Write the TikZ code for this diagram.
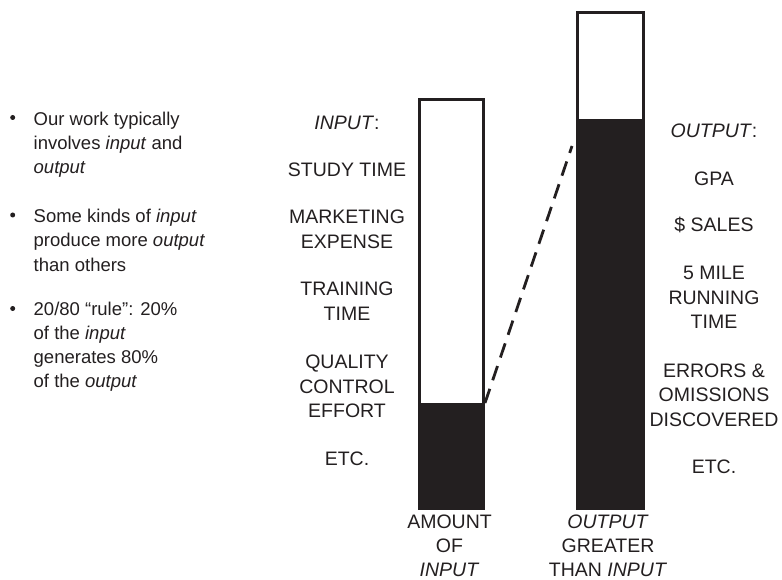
\documentclass[tikz,border=0pt]{standalone}
\usepackage{fontspec}
\setmainfont{Liberation Sans}
\definecolor{ink}{HTML}{231F20}
\begin{document}
\begin{tikzpicture}[x=1pt,y=-1pt,
  bullettext/.style={anchor=north west, inner sep=0pt, align=left, text=ink,
    font=\fontsize{18.5}{24.2}\selectfont},
  bulletdot/.style={circle, fill=ink, inner sep=0pt, minimum size=5pt},
  lab/.style={anchor=north, inner sep=0pt, align=center, text=ink,
    font=\fontsize{19.5}{24.5}\selectfont},
  caption/.style={lab, font=\fontsize{19.5}{23.6}\selectfont},
  barframe/.style={draw=ink, line width=3pt, fill=white, inner sep=0pt,
    anchor=north west},
  barfill/.style={draw=ink, line width=3pt, fill=ink, inner sep=0pt,
    anchor=north west},
  link/.style={draw=ink, line width=2.8pt, dash pattern=on 15pt off 9pt}]
\useasboundingbox (0,0) rectangle (782,580);

% bullet points
\node[bulletdot] (d1) at (12.7,117.5) {};
\node[bulletdot] (d2) at (12.7,215) {};
\node[bulletdot] (d3) at (12.7,308.5) {};
\node[bullettext] (t1) at (33.5,111.5) {Our work typically\\involves \textit{input} and\\\textit{output}};
\node[bullettext] (t2) at (33.5,209) {Some kinds of \textit{input}\\produce more \textit{output}\\than others};
\node[bullettext] (t3) at (33.5,301.5) {20/80 “rule”: 20\%\\of the \textit{input}\\generates 80\%\\of the \textit{output}};

% input bar
\node[barframe, minimum width=64.5pt, minimum height=408pt] (inbar) at (417.5,98.5) {};
\node[barfill, minimum width=64.5pt, minimum height=103.5pt] (infill) at (417.5,403) {};

% output bar
\node[barframe, minimum width=66pt, minimum height=495pt] (outbar) at (575.5,11.5) {};
\node[barfill, minimum width=66pt, minimum height=387pt] (outfill) at (575.5,119.5) {};

% dashed link from the input share to the output share
\coordinate (linkend) at (572,146);
\draw[link] (infill.north east) -- (linkend);

% input labels
\node[lab] (inhead) at (347,115.7) {\textit{INPUT}:};
\node[lab] (in1) at (347,162.3) {STUDY TIME};
\node[lab] (in2) at (347,209.7) {MARKETING\\EXPENSE};
\node[lab] (in3) at (347,282) {TRAINING\\TIME};
\node[lab] (in4) at (347,354.7) {QUALITY\\CONTROL\\EFFORT};
\node[lab] (in5) at (347,451.3) {ETC.};

% output labels
\node[lab] (outhead) at (714,123.7) {\textit{OUTPUT}:};
\node[lab] (out1) at (714,171.3) {GPA};
\node[lab] (out2) at (714,217) {\$ SALES};
\node[lab] (out3) at (714,266.3) {5 MILE\\RUNNING\\TIME};
\node[lab] (out4) at (714,363.2) {ERRORS \&\\OMISSIONS\\DISCOVERED};
\node[lab] (out5) at (714,459.7) {ETC.};

% captions under the bars
\node[caption] (incap) at (449.5,515) {AMOUNT\\OF\\\textit{INPUT}};
\node[caption] (outcap) at (608,515) {\textit{OUTPUT}\\GREATER\\THAN \textit{INPUT}};
\end{tikzpicture}
\end{document}
